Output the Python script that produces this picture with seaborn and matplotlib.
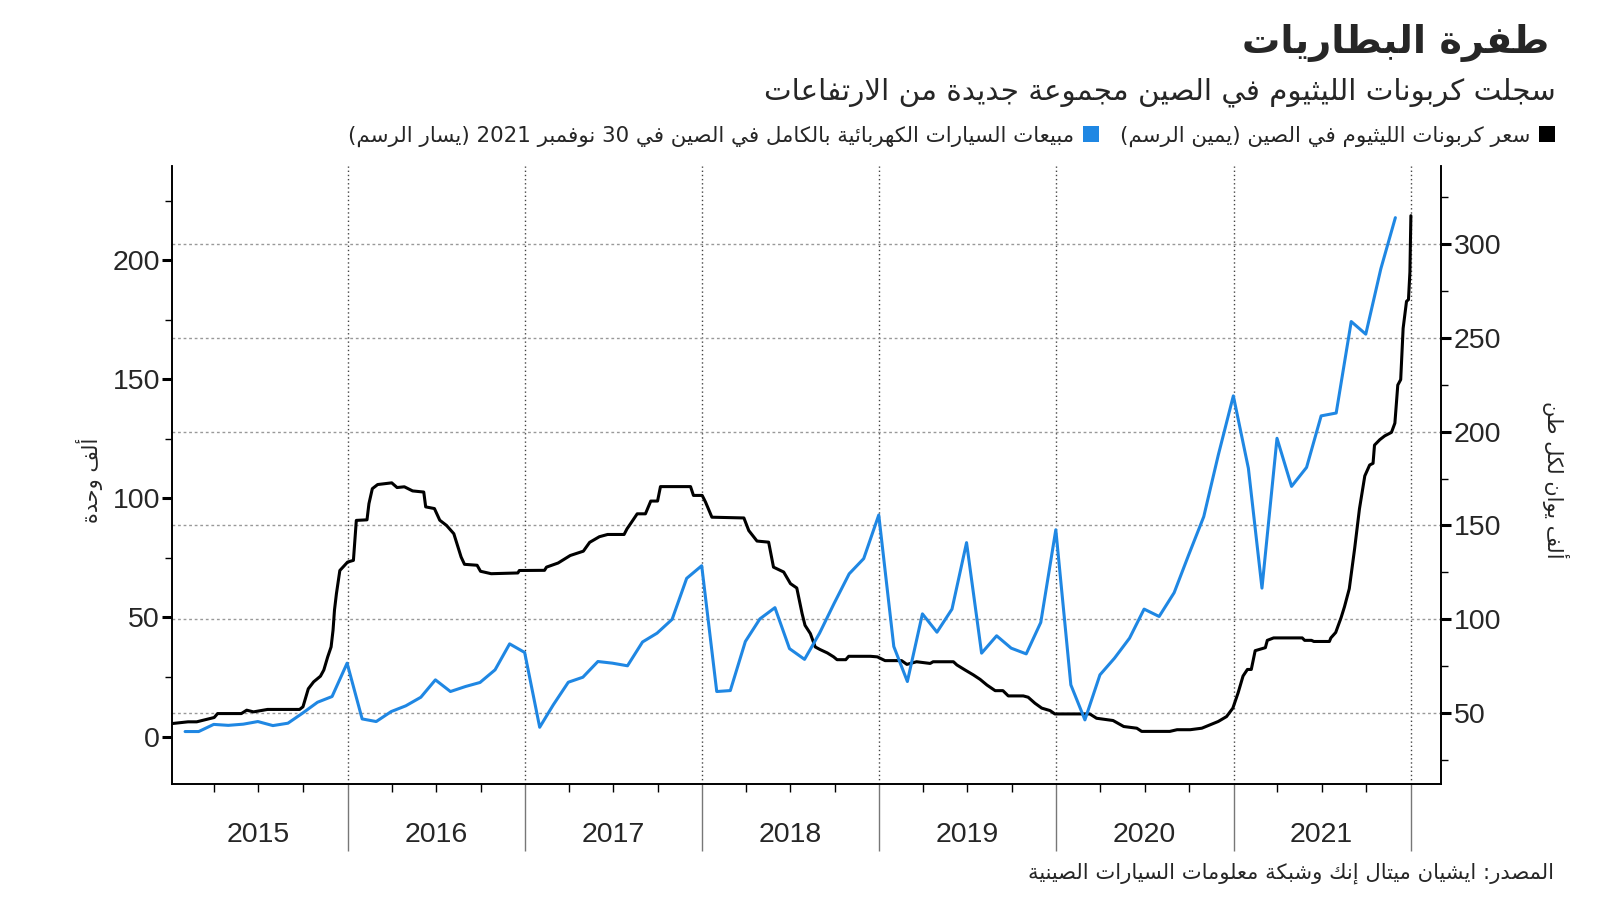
import re
import pandas as pd
import matplotlib
matplotlib.use('Agg')
import matplotlib.pyplot as plt
import matplotlib.dates as mdates
from matplotlib.patches import Patch
from matplotlib.ticker import MultipleLocator, NullFormatter
import seaborn as sns

# ---- textos ----
titulo = 'طفرة البطاريات'
subtitulo = 'سجلت كربونات الليثيوم في الصين مجموعة جديدة من الارتفاعات'
leyenda_precio = 'سعر كربونات الليثيوم في الصين (يمين الرسم)'
leyenda_ventas = 'مبيعات السيارات الكهربائية بالكامل في الصين في 30 نوفمبر 2021 (يسار الرسم)'
etiqueta_izq = 'ألف وحدة'
etiqueta_der = 'ألف يوان لكل طن'
fuente = 'المصدر: ايشيان ميتال إنك وشبكة معلومات السيارات الصينية'
anios = ['2015', '2016', '2017', '2018', '2019', '2020', '2021']

# ---- ventas mensuales de VE (miles de unidades), ene 2015 - nov 2021 ----
ventas = [2.1, 2.1, 5.1, 4.7, 5.2, 6.3, 4.6, 5.6, 9.8, 14.4, 16.8, 30.8,
          7.4, 6.3, 10.5, 12.9, 16.5, 23.8, 18.9, 21.0, 22.7, 28.0, 38.9, 35.3,
          3.9, 13.3, 22.8, 24.9, 31.5, 30.8, 29.7, 39.7, 43.4, 49.2, 66.4, 71.7,
          18.9, 19.3, 39.9, 49.4, 54.1, 36.9, 32.4, 43.4, 55.9, 68.3, 74.7, 93.0,
          37.8, 23.1, 51.5, 43.8, 53.5, 81.4, 35.0, 42.3, 37.1, 34.7, 47.9, 86.8,
          21.7, 7.0, 25.9, 32.9, 41.3, 53.5, 50.4, 60.4, 76.3, 92.3, 118.2, 143.0,
          112.6, 62.3, 125.2, 105.0, 113.0, 134.6, 135.8, 174.2, 168.9, 196.3, 217.8]

# ---- precio del carbonato de litio (miles de yuanes / tonelada) ----
precio_fechas = [
    '2015-01-05', '2015-02-06', '2015-02-24', '2015-03-10', '2015-04-01', '2015-04-08',
    '2015-05-27', '2015-06-07', '2015-06-21', '2015-07-20', '2015-09-24', '2015-10-01',
    '2015-10-12', '2015-10-23', '2015-11-06', '2015-11-13', '2015-11-21', '2015-11-28',
    '2015-12-02', '2015-12-05', '2015-12-09', '2015-12-16', '2016-01-01', '2016-01-13',
    '2016-01-19', '2016-02-10', '2016-02-14', '2016-02-21', '2016-03-03', '2016-04-01',
    '2016-04-12', '2016-04-27', '2016-05-14', '2016-06-06', '2016-06-10', '2016-06-28',
    '2016-07-09', '2016-07-23', '2016-08-07', '2016-08-22', '2016-08-29', '2016-09-24',
    '2016-10-01', '2016-10-23', '2016-12-17', '2016-12-20', '2017-02-10', '2017-02-14',
    '2017-03-10', '2017-04-04', '2017-05-01', '2017-05-14', '2017-06-03', '2017-06-20',
    '2017-07-24', '2017-07-30', '2017-08-07', '2017-08-20', '2017-09-06', '2017-09-17',
    '2017-10-01', '2017-10-07', '2017-12-08', '2017-12-14', '2018-01-01', '2018-01-08',
    '2018-01-21', '2018-03-28', '2018-04-07', '2018-04-24', '2018-05-18', '2018-05-28',
    '2018-06-18', '2018-07-02', '2018-07-15', '2018-07-26', '2018-08-01', '2018-08-12',
    '2018-08-22', '2018-09-01', '2018-09-16', '2018-09-29', '2018-10-06', '2018-10-24',
    '2018-10-30', '2018-12-14', '2018-12-28', '2019-01-13', '2019-02-16', '2019-02-27',
    '2019-03-19', '2019-04-16', '2019-04-22', '2019-06-03', '2019-06-10', '2019-06-27',
    '2019-07-14', '2019-07-28', '2019-08-11', '2019-08-28', '2019-09-13', '2019-09-24',
    '2019-10-25', '2019-11-04', '2019-11-18', '2019-12-02', '2019-12-19', '2019-12-29',
    '2020-03-10', '2020-03-24', '2020-04-27', '2020-05-19', '2020-06-15', '2020-06-25',
    '2020-08-22', '2020-09-06', '2020-10-03', '2020-10-27', '2020-11-13', '2020-11-30',
    '2020-12-17', '2020-12-30', '2021-01-10', '2021-01-20', '2021-01-29', '2021-02-06',
    '2021-02-14', '2021-03-07', '2021-03-11', '2021-03-24', '2021-05-22', '2021-05-27',
    '2021-06-10', '2021-06-15', '2021-07-17', '2021-07-20', '2021-07-30', '2021-08-10',
    '2021-08-17', '2021-08-27', '2021-09-07', '2021-09-17', '2021-09-28', '2021-10-08',
    '2021-10-15', '2021-10-18', '2021-10-29', '2021-11-08', '2021-11-22', '2021-11-29',
    '2021-12-05', '2021-12-11', '2021-12-16', '2021-12-23', '2021-12-27', '2021-12-30',
    '2022-01-01']
precio_valores = [
    44.5, 45.4, 45.4, 46.3, 47.7, 49.8,
    49.8, 51.6, 50.7, 52.0, 52.0, 53.4,
    63.0, 66.7, 69.7, 73.0, 80.0, 85.3,
    94.2, 105.0, 113.7, 126.0, 130.5, 131.4,
    152.7, 153.0, 161.6, 169.6, 171.8, 172.7,
    170.2, 170.6, 168.4, 167.8, 159.9, 159.0,
    152.8, 150.0, 145.6, 133.2, 129.3, 128.8,
    125.6, 124.3, 124.7, 126.0, 126.1, 127.8,
    130.0, 134.0, 136.3, 141.0, 144.0, 145.2,
    145.2, 148.2, 151.2, 156.2, 156.2, 163.0,
    163.0, 170.7, 170.7, 166.0, 166.0, 162.4,
    154.4, 154.0, 147.3, 141.7, 141.1, 127.8,
    125.2, 119.0, 116.7, 103.0, 96.8, 92.4,
    85.3, 83.9, 82.1, 80.0, 78.5, 78.5,
    80.3, 80.3, 80.0, 78.0, 78.0, 76.0,
    77.4, 76.5, 77.4, 77.4, 75.7, 73.0,
    70.4, 68.0, 65.0, 62.0, 62.0, 59.2,
    59.2, 58.5, 55.3, 52.7, 51.4, 49.6,
    49.6, 47.3, 46.1, 42.9, 42.0, 40.3,
    40.3, 41.2, 41.2, 42.0, 43.8, 45.6,
    48.2, 52.7, 61.0, 69.8, 73.3, 73.3,
    83.3, 84.9, 88.8, 90.1, 90.1, 88.8,
    88.8, 88.2, 88.2, 90.1, 93.0, 100.8,
    106.6, 116.3, 137.6, 158.9, 176.4, 182.2,
    183.1, 192.8, 195.7, 197.7, 199.6, 204.5,
    224.8, 227.7, 255.0, 269.4, 270.3, 285.0,
    315.0]

# ---- arabe: formas de presentacion + orden visual (matplotlib no hace shaping) ----
FORMAS = {'ء': (0xFE80, 1), 'آ': (0xFE81, 2), 'أ': (0xFE83, 2), 'ؤ': (0xFE85, 2),
          'إ': (0xFE87, 2), 'ئ': (0xFE89, 4), 'ا': (0xFE8D, 2), 'ب': (0xFE8F, 4),
          'ة': (0xFE93, 2), 'ت': (0xFE95, 4), 'ث': (0xFE99, 4), 'ج': (0xFE9D, 4),
          'ح': (0xFEA1, 4), 'خ': (0xFEA5, 4), 'د': (0xFEA9, 2), 'ذ': (0xFEAB, 2),
          'ر': (0xFEAD, 2), 'ز': (0xFEAF, 2), 'س': (0xFEB1, 4), 'ش': (0xFEB5, 4),
          'ص': (0xFEB9, 4), 'ض': (0xFEBD, 4), 'ط': (0xFEC1, 4), 'ظ': (0xFEC5, 4),
          'ع': (0xFEC9, 4), 'غ': (0xFECD, 4), 'ف': (0xFED1, 4), 'ق': (0xFED5, 4),
          'ك': (0xFED9, 4), 'ل': (0xFEDD, 4), 'م': (0xFEE1, 4), 'ن': (0xFEE5, 4),
          'ه': (0xFEE9, 4), 'و': (0xFEED, 2), 'ى': (0xFEEF, 2), 'ي': (0xFEF1, 4)}
LAM_ALEF = {'آ': 0xFEF5, 'أ': 0xFEF7, 'إ': 0xFEF9, 'ا': 0xFEFB}


def ar(texto):
    c = list(texto)
    out = []
    i = 0
    while i < len(c):
        ch = c[i]
        if ch not in FORMAS:
            out.append(ch)
            i += 1
            continue
        prev = c[i - 1] if i > 0 else ''
        une_prev = prev in FORMAS and FORMAS[prev][1] == 4
        if ch == 'ل' and i + 1 < len(c) and c[i + 1] in LAM_ALEF:
            out.append(chr(LAM_ALEF[c[i + 1]] + (1 if une_prev else 0)))
            i += 2
            continue
        sig = c[i + 1] if i + 1 < len(c) else ''
        base, n = FORMAS[ch]
        une_sig = n == 4 and sig in FORMAS and sig != 'ء'
        if n == 1:
            f = 0
        elif une_prev and une_sig:
            f = 3
        elif une_prev:
            f = 1
        elif une_sig:
            f = 2
        else:
            f = 0
        out.append(chr(base + f))
        i += 1
    tokens = re.findall(r'[0-9A-Za-z]+|.', ''.join(out))
    espejo = {'(': ')', ')': '('}
    return ''.join(espejo.get(t, t) for t in reversed(tokens))


# ---- figura ----
sns.set_style('ticks')
plt.rcParams['font.family'] = ['Liberation Sans', 'DejaVu Sans']
AR = 'DejaVu Sans'

fig = plt.figure(figsize=(16, 9.01), dpi=100)
ax = fig.add_axes([0.1078, 0.1299, 0.7928, 0.6859])
ax2 = ax.twinx()

fechas_ventas = pd.date_range('2015-01-31', periods=len(ventas), freq='ME')
df_ventas = pd.DataFrame({'fecha': fechas_ventas, 'ventas': ventas})
df_precio = pd.DataFrame({'fecha': pd.to_datetime(precio_fechas), 'precio': precio_valores})

# precio en ax (eje derecho), ventas en ax2 (eje izquierdo)
sns.lineplot(data=df_precio, x='fecha', y='precio', ax=ax, color='black', linewidth=2.2)
sns.lineplot(data=df_ventas, x='fecha', y='ventas', ax=ax2, color='#1f87e3', linewidth=2.2)

ax.yaxis.tick_right()
ax2.yaxis.tick_left()
ax.set_ylim(12.3, 341.5)
ax2.set_ylim(-19.9, 239.5)
ax.set_xlim(pd.Timestamp('2015-01-05'), pd.Timestamp('2022-03-04'))
ax.set_xlabel('')
ax.set_ylabel('')
ax2.set_ylabel('')

ax.yaxis.set_major_locator(MultipleLocator(50))
ax.yaxis.set_minor_locator(MultipleLocator(25))
ax2.yaxis.set_major_locator(MultipleLocator(50))
ax2.yaxis.set_minor_locator(MultipleLocator(25))

ax.xaxis.set_major_locator(mdates.YearLocator())
ax.xaxis.set_minor_locator(mdates.MonthLocator(bymonth=[4, 7, 10]))
ax.xaxis.set_major_formatter(NullFormatter())
ax.xaxis.set_minor_formatter(NullFormatter())

ax.tick_params(axis='x', which='major', length=48, width=1, color='#777777')
ax.tick_params(axis='x', which='minor', length=6, width=1, color='black')
for a in (ax, ax2):
    a.tick_params(axis='y', which='major', length=7, width=2.2, color='black',
                  labelsize=20.5, pad=2)
    a.tick_params(axis='y', which='minor', length=5, width=1, color='black')
    a.spines['top'].set_visible(False)
    for s in ('left', 'right', 'bottom'):
        a.spines[s].set_color('black')
        a.spines[s].set_linewidth(1.2)

ax.grid(axis='y', which='major', linestyle=(0, (2, 2)), color='#999999', linewidth=1)
ax.grid(axis='x', which='major', linestyle=(0, (1, 2)), color='#444444', linewidth=1)
ax.set_axisbelow(True)

for anio in anios:
    ax.text(pd.Timestamp(anio + '-07-01'), -0.082, anio, transform=ax.get_xaxis_transform(),
            ha='center', va='center', fontsize=20.5)

# textos
fig.text(0.968, 0.952, ar(titulo), ha='right', va='center', fontsize=27.5,
         fontweight='bold', family=AR)
fig.text(0.9725, 0.898, ar(subtitulo), ha='right', va='center', fontsize=21.2, family=AR)
fig.text(0.971, 0.031, ar(fuente), ha='right', va='center', fontsize=15.2, family=AR)
fig.text(0.056, 0.467, ar(etiqueta_izq), ha='center', va='center', rotation=90,
         fontsize=15, family=AR)
fig.text(0.9725, 0.467, ar(etiqueta_der), ha='center', va='center', rotation=270,
         fontsize=15, family=AR)

manijas = [Patch(facecolor='#1f87e3', edgecolor='none', label=ar(leyenda_ventas)),
           Patch(facecolor='black', edgecolor='none', label=ar(leyenda_precio))]
fig.legend(handles=manijas, loc='center right', bbox_to_anchor=(0.984, 0.849), ncol=2,
           frameon=False, markerfirst=False, handlelength=0.75, handleheight=0.75,
           handletextpad=0.4, columnspacing=1.0, prop={'family': AR, 'size': 15.4})

fig.savefig('out.png', dpi=100)
